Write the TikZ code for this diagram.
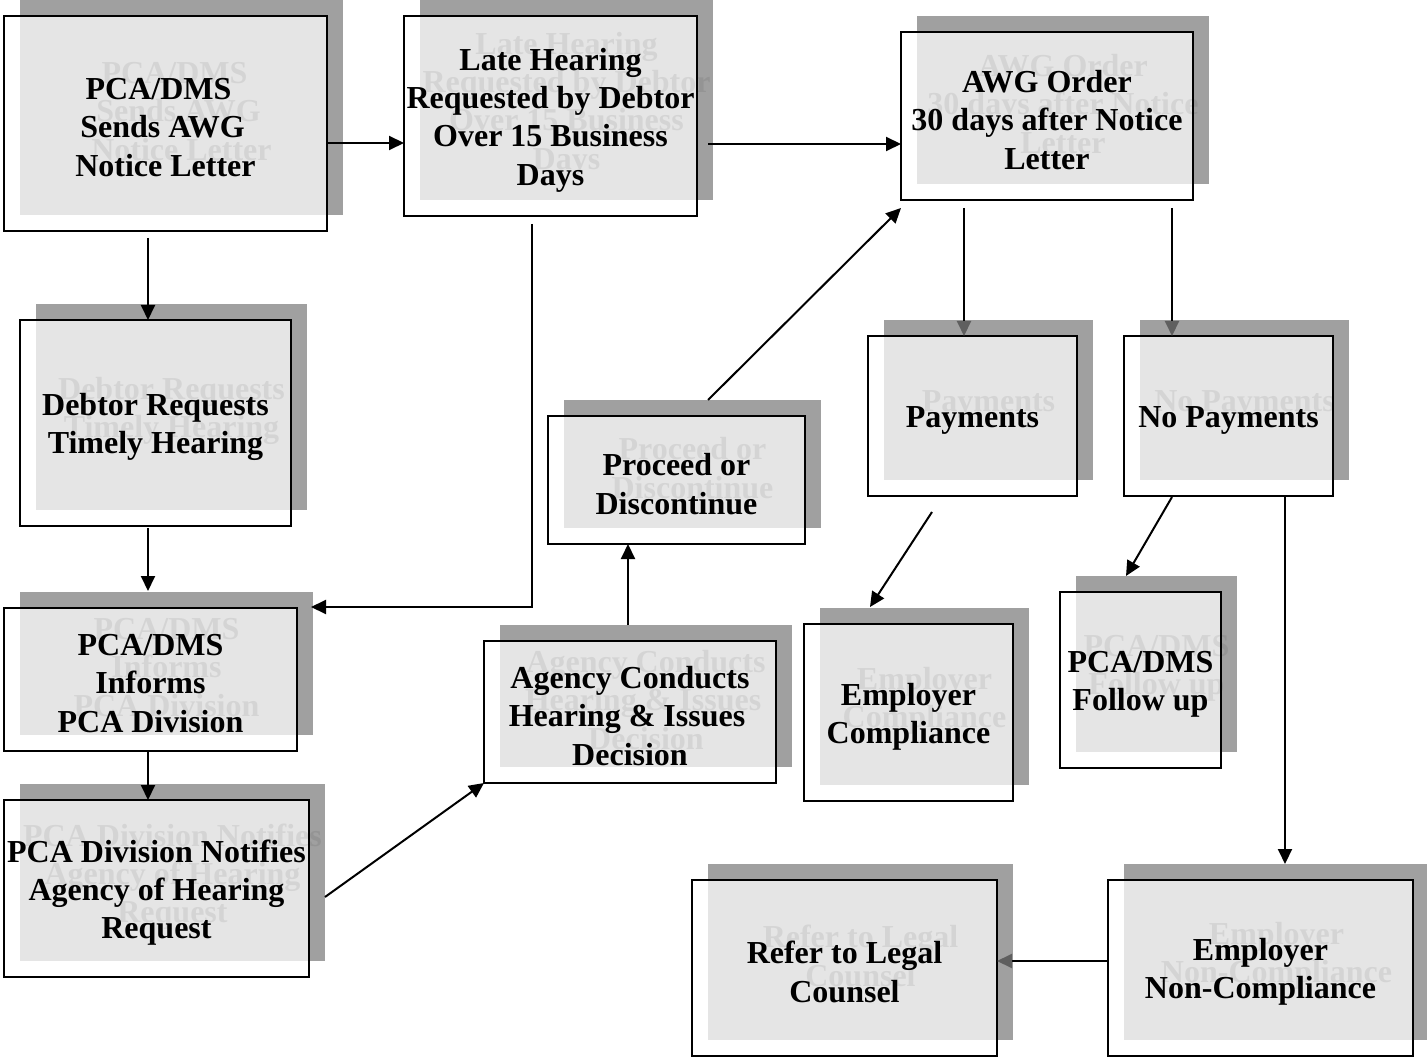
\documentclass[tikz,border=0pt]{standalone}
\usepackage{fontspec}
\setmainfont{Liberation Serif}
\usetikzlibrary{arrows.meta,calc}
\definecolor{shadowgray}{HTML}{A0A0A0}
\definecolor{lightfill}{HTML}{E5E5E5}
\definecolor{tipgray}{HTML}{5F5F5F}
\newcommand\flowbox[6]{%
  \fill[shadowgray] (#2+16,#3-16) rectangle (#4+16,#5-16);
  \fill[white] (#2,#3) rectangle (#4,#5);
  \fill[lightfill] (#2+16,#3) rectangle (#4,#5-16);
  \pgfmathsetmacro\bxw{#4-#2}\pgfmathsetmacro\bxh{#5-#3}
  \node[ghosttext] at ($(#2,#3)!0.5!(#4,#5)+(16,-12)$) {#6};
  \node[boxframe, minimum width=\bxw pt, minimum height=\bxh pt, anchor=north west] (#1) at (#2,#3) {};
  \node[maintext] at ($(#1.center)+(0,4)$) {#6};
}
\begin{document}
\begin{tikzpicture}[x=1pt,y=-1pt,
  boxframe/.style={draw=black,line width=2pt,inner sep=0pt,outer sep=0pt},
  maintext/.style={font=\bfseries\fontsize{32}{38.3}\selectfont,align=center,inner sep=0pt,text=black},
  ghosttext/.style={maintext,text opacity=0.07},
  conn/.style={line width=2pt,-{Triangle[length=15pt,width=14pt]}},
  conngray/.style={line width=2pt,-{Triangle[length=15pt,width=14pt,color=tipgray]}}]
\useasboundingbox (0,0) rectangle (1427,1059);
\fill[white] (0,0) rectangle (1427,1059);

\flowbox{b1}{4}{16}{327}{231}{PCA/DMS\makebox[14pt]{}\\Sends AWG\makebox[6pt]{}\\Notice Letter}
\flowbox{b2}{404}{16}{697}{216}{Late Hearing\\Requested by Debtor\\Over 15 Business\\Days}
\flowbox{b3}{901}{32}{1193}{200}{AWG Order\\30 days after Notice\\Letter}
\flowbox{b4}{20}{320}{291}{526}{Debtor Requests\\Timely Hearing}
\flowbox{b5}{4}{608}{297}{751}{PCA/DMS\\Informs\\PCA Division}
\flowbox{b6}{4}{800}{309}{977}{PCA Division Notifies\\Agency of Hearing\\Request}
\flowbox{b7}{548}{416}{805}{544}{Proceed or\\Discontinue}
\flowbox{b8}{484}{641}{776}{783}{Agency Conducts\\Hearing \& Issues\makebox[6pt]{}\\Decision}
\flowbox{b9}{868}{336}{1077}{496}{Payments}
\flowbox{b10}{1124}{336}{1333}{496}{No Payments}
\flowbox{b11}{804}{624}{1013}{801}{Employer\\Compliance}
\flowbox{b12}{1060}{592}{1221}{768}{PCA/DMS\\Follow up}
\flowbox{b13}{692}{880}{997}{1056}{Refer to Legal\\Counsel}
\flowbox{b14}{1108}{880}{1413}{1056}{Employer\\Non-Compliance}

% connectors
\draw[conn] (b1.east |- 0,143) -- (b2.west |- 0,143);
\draw[conn] ($(b2.east |- 0,144)+(11,0)$) -- (b3.west |- 0,144);
\draw[conn] ($(b1.south -| 148,0)+(0,7)$) -- (b4.north -| 148,0);
\draw[conn] ($(b4.south -| 148,0)+(0,2)$) -- ($(b5.north -| 148,0)+(0,-17)$);
\draw[conn] (b5.south -| 148,0) -- (b6.north -| 148,0);
\draw[conn] ($(b2.south -| 532,0)+(0,8)$) |- ($(b5.east |- 0,607)+(14,0)$);
\draw[conn] ($(b6.east |- 0,897)+(16,0)$) -- (b8.south west);
\draw[conn] ($(b8.north -| 628,0)+(0,-16)$) -- (b7.south -| 628,0);
\draw[conn] ($(b7.north -| 708,0)+(0,-16)$) -- ($(b3.south west)+(0,8)$);
\draw[conngray] ($(b3.south -| 964,0)+(0,8)$) -- (b9.north -| 964,0);
\draw[conngray] ($(b3.south -| 1172,0)+(0,8)$) -- (b10.north -| 1172,0);
\draw[conn] ($(b9.south -| 932,0)+(0,16)$) -- ($(b11.north -| 870,0)+(0,-17)$);
\draw[conn] ($(b10.south -| 1172,0)+(0,1)$) -- ($(b12.north -| 1126,0)+(0,-16)$);
\draw[conn] (b10.south -| 1285,0) -- ($(b14.north -| 1285,0)+(0,-16)$);
\draw[conngray] (b14.west |- 0,961) -- (b13.east |- 0,961);
\end{tikzpicture}
\end{document}
